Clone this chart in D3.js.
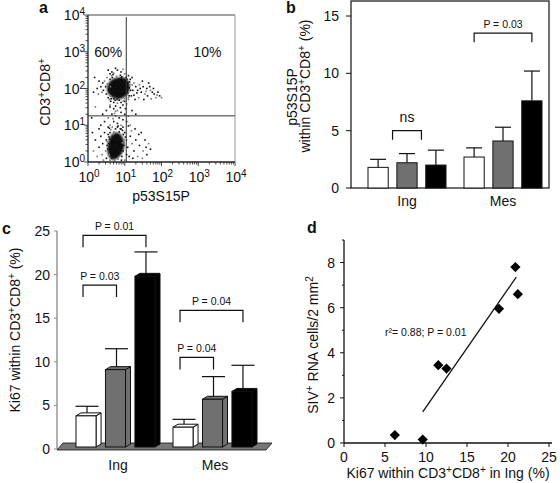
<!DOCTYPE html>
<html><head><meta charset="utf-8">
<script src="https://cdn.jsdelivr.net/npm/d3@7"></script>
<style>body{margin:0;background:#fff}svg text{font-family:Arial,"Liberation Sans",Helvetica,sans-serif;fill:#111}</style>
</head><body><svg id="chart" width="560" height="483"></svg>
<script>
// ---------------- DATA ----------------
// Panel a: flow cytometry (log decades)
const flowDecades = [0, 1, 2, 3, 4];
const flowGateX = 11;
const flowGateY = 18;
const flowQuadLabels = ["60%", "10%"];
// dense cores [xDecade, yDecade, rxDecade, ryDecade]
const flowCores = [[0.82, 2.0, 0.3, 0.29], [0.93, 2.08, 0.2, 0.22], [0.77, 0.47, 0.22, 0.33], [0.7, 0.3, 0.17, 0.24]];
// sparse events [xDecade, yDecade]
const flowDots = [
[0.45,2.2],[0.5,1.85],[0.48,2.05],[0.52,2.3],[0.55,1.75],[0.6,2.4],[0.58,1.7],[0.42,1.95],[0.4,2.15],[0.38,1.9],
[0.35,2.05],[0.3,2.2],[0.28,1.85],[0.25,2.0],[0.65,2.45],[0.7,2.42],[0.8,2.5],[0.9,2.45],[1.0,2.4],[1.1,2.35],
[1.15,2.25],[1.2,2.1],[1.22,1.95],[1.18,1.8],[1.1,1.7],[1.0,1.65],[0.9,1.62],[0.8,1.6],[0.7,1.62],[0.62,1.65],
[1.25,2.15],[1.3,2.05],[1.35,1.95],[1.4,2.1],[1.45,1.9],[1.5,2.05],[1.55,1.85],[1.6,2.0],[1.62,1.8],[1.7,1.95],
[1.75,1.9],[1.8,1.85],[1.85,1.75],[1.9,1.9],[1.95,1.8],[2.0,1.75],[1.65,2.15],[1.48,2.2],[1.38,1.75],[1.28,1.7],
[1.52,1.7],[1.72,1.72],[1.42,2.0],[1.33,1.88],[1.58,1.92],[1.68,2.05],[1.78,2.0],[1.88,1.82],[1.25,1.82],[1.2,2.3],
[0.95,2.52],[0.75,2.55],[0.55,2.5],[0.6,1.55],[0.75,1.52],[0.95,1.55],[1.05,1.58],[1.12,2.02],[1.08,1.88],[0.52,2.12],
[0.6,1.5],[0.7,1.45],[0.8,1.4],[0.9,1.35],[0.65,1.3],[0.75,1.25],[0.85,1.2],[0.95,1.15],[0.55,1.2],[0.7,1.1],
[0.8,1.05],[0.9,1.0],[1.0,1.3],[1.05,1.1],[0.6,1.0],[0.5,1.4],[0.45,1.1],[0.75,1.38],[0.88,1.48],[1.02,1.45],
[0.68,1.18],[0.82,0.98],[0.58,0.92],[1.1,1.25],[1.2,1.4],[1.3,1.3],[1.15,1.0],[0.4,1.3],[0.35,1.0],[0.72,1.32],
[0.45,0.8],[0.5,0.6],[0.48,0.3],[0.5,0.1],[0.55,0.95],[0.6,0.05],[0.9,0.9],[1.0,0.8],[1.05,0.6],[1.08,0.4],
[1.05,0.2],[1.0,0.05],[0.95,0.95],[0.4,0.5],[0.38,0.2],[0.35,0.7],[0.3,0.4],[0.25,0.15],[0.2,0.6],[1.15,0.7],
[1.2,0.5],[1.25,0.3],[1.3,0.6],[1.35,0.15],[1.4,0.45],[1.45,0.8],[1.5,0.3],[1.55,0.6],[1.6,0.2],[1.65,0.5],
[1.7,0.35],[1.12,0.15],[1.18,0.85],[1.28,0.9],[1.38,0.75],[1.48,0.1],[1.58,0.4],[1.22,0.1],[0.42,0.05],[0.3,0.9],
[1.1,0.98],[0.15,0.3],[0.12,0.8],[0.1,1.2],[0.2,1.5],[0.18,2.3],[0.15,1.9],[0.98,0.5],[1.02,0.68],[0.52,0.45],
[0.55,2.1],[0.58,1.9],[0.6,2.25],[0.62,1.8],[0.66,2.3],[0.7,1.72],[0.78,2.33],[0.85,1.68],[0.92,2.32],[1.0,1.72],
[1.06,2.25],[1.12,1.8],[1.14,2.1],[1.16,1.95],[0.57,2.0],[0.64,2.35],[0.74,1.68],[1.04,2.3],[1.1,1.75],[0.68,2.38],
[0.88,2.36],[0.96,1.66],[1.13,2.18],[0.56,1.95],[0.61,2.05],[0.63,1.72],[1.08,2.15],[1.07,1.84],[0.79,1.7],[0.9,2.28],
[0.52,0.55],[0.54,0.35],[0.55,0.75],[0.58,0.2],[0.6,0.8],[0.95,0.3],[0.98,0.6],[0.96,0.75],[0.92,0.15],[0.7,0.82],
[0.85,0.82],[0.65,0.1],[0.82,0.08],[0.56,0.5],[0.97,0.45],[0.62,0.88],[0.88,0.9],[0.75,0.9],[0.66,0.95],[0.8,0.95],
[0.59,0.62],[0.93,0.52],[0.6,0.4],[0.91,0.05],[0.72,0.04],[0.57,0.68],[0.94,0.86],[0.69,0.75]
];

// Panel b: p53S15P within CD3+CD8+ (%)
const groups = ["Ing", "Mes"];
const seriesNames = ["s1", "s2", "s3"];
const p53Means = [[1.8, 2.2, 2.0], [2.7, 4.1, 7.6]];
const p53Upper = [[2.5, 3.0, 3.3], [3.5, 5.3, 10.2]];
const p53Ticks = [0, 5, 10, 15];
const p53Brackets = [{g: 0, from: 0.5, to: 1.5, level: 5.0, label: "ns"},
                     {g: 1, from: 0, to: 2, level: 13.5, label: "P = 0.03"}];

// Panel c: Ki67 within CD3+CD8+ (%)
const ki67Means = [[3.8, 9.1, 19.8], [2.5, 5.7, 6.6]];
const ki67Upper = [[4.9, 11.5, 22.6], [3.4, 8.3, 9.6]];
const ki67Ticks = [0, 5, 10, 15, 20, 25];
const ki67Brackets = [{g: 0, from: 0, to: 2, level: 24.5, label: "P = 0.01"},
                      {g: 0, from: 0, to: 1, level: 18.8, label: "P = 0.03"},
                      {g: 1, from: 0, to: 2, level: 15.9, label: "P = 0.04"},
                      {g: 1, from: 0, to: 1, level: 10.5, label: "P = 0.04"}];

// Panel d: correlation
const corrX = [6.2, 9.6, 11.5, 12.5, 18.9, 20.9, 21.2];
const corrY = [0.35, 0.15, 3.45, 3.3, 5.95, 7.8, 6.6];
const fitX = [9.6, 21.0];
const fitY = [1.38, 7.35];
const corrXTicks = [0, 5, 10, 15, 20, 25];
const corrYTicks = [0, 2, 4, 6, 8];
const corrYMinor = [1, 3, 5, 7, 9];
const corrNote = "r\u00B2= 0.88; P = 0.01";

// ---------------- STYLE ----------------
const barFill = ["#ffffff", "#707070", "#000000"];
const svg = d3.select("#chart");

function rich(t, parts, supSize) {
  parts.forEach(([s, sup]) => {
    const ts = t.append("tspan").text(s);
    if (sup) ts.attr("baseline-shift", "super").attr("font-size", supSize);
  });
  return t;
}
function panelLabel(x, y, s) {
  svg.append("text").attr("x", x).attr("y", y).attr("font-size", 16).attr("font-weight", "bold").text(s);
}

// ================= Panel a =================
(function () {
  const L = 88, R = 235, T = 15, B = 162;
  const x = d3.scaleLinear().domain([0, 4]).range([L, R]);
  const y = d3.scaleLinear().domain([0, 4]).range([B, T]);
  const g = svg.append("g");
  const defs = svg.append("defs");
  defs.append("filter").attr("id", "blur1").append("feGaussianBlur").attr("stdDeviation", 1.1);

  g.selectAll("ellipse.core").data(flowCores).join("ellipse")
    .attr("cx", d => x(d[0])).attr("cy", d => y(d[1]))
    .attr("rx", d => x(d[2]) - x(0)).attr("ry", d => y(0) - y(d[3]))
    .attr("fill", "#0a0a0a").attr("filter", "url(#blur1)");
  g.selectAll("rect.dot").data(flowDots).join("rect")
    .attr("x", d => x(d[0]) - 0.8).attr("y", d => y(d[1]) - 0.8)
    .attr("width", 1.6).attr("height", 1.6)
    .attr("fill", (d, i) => i % 3 === 0 ? "#777" : "#111");

  g.append("line").attr("x1", L).attr("x2", R).attr("y1", T).attr("y2", T).attr("stroke", "#444").attr("stroke-width", 1);
  g.append("line").attr("x1", R).attr("x2", R).attr("y1", T).attr("y2", B).attr("stroke", "#999").attr("stroke-width", 1);
  g.append("line").attr("x1", L).attr("x2", L).attr("y1", T).attr("y2", B).attr("stroke", "#222").attr("stroke-width", 1.3);
  g.append("line").attr("x1", L).attr("x2", R).attr("y1", B).attr("y2", B).attr("stroke", "#222").attr("stroke-width", 1.3);

  const logTicks = [];
  for (let d = 0; d < 4; d++) for (let m = 1; m < 10; m++) logTicks.push(d + Math.log10(m));
  logTicks.push(4);
  g.selectAll("line.tx").data(logTicks).join("line")
    .attr("x1", d => x(d)).attr("x2", d => x(d)).attr("y1", B)
    .attr("y2", d => Math.abs(d - Math.round(d)) < 1e-9 ? B + 4 : B + 2.5)
    .attr("stroke", "#222").attr("stroke-width", 0.8);
  g.selectAll("line.ty").data(logTicks).join("line")
    .attr("y1", d => y(d)).attr("y2", d => y(d)).attr("x1", L)
    .attr("x2", d => Math.abs(d - Math.round(d)) < 1e-9 ? L - 4 : L - 2.5)
    .attr("stroke", "#222").attr("stroke-width", 0.8);

  g.append("line").attr("x1", x(Math.log10(flowGateX))).attr("x2", x(Math.log10(flowGateX)))
    .attr("y1", T + 2).attr("y2", B).attr("stroke", "#333").attr("stroke-width", 1);
  g.append("line").attr("y1", y(Math.log10(flowGateY))).attr("y2", y(Math.log10(flowGateY)))
    .attr("x1", L).attr("x2", R).attr("stroke", "#333").attr("stroke-width", 1);

  flowDecades.forEach(d => {
    const t = svg.append("text").attr("x", x(d) + 1).attr("y", B + 20).attr("text-anchor", "middle").attr("font-size", 14);
    rich(t, [["10"], [String(d), 1]], 10);
    const t2 = svg.append("text").attr("x", L - 3).attr("y", y(d) + 5).attr("text-anchor", "end").attr("font-size", 14);
    rich(t2, [["10"], [String(d), 1]], 10);
  });
  svg.append("text").attr("x", x(0.55)).attr("y", y(3) + 5).attr("text-anchor", "middle").attr("font-size", 14).text(flowQuadLabels[0]);
  svg.append("text").attr("x", x(3.25)).attr("y", y(3) + 5).attr("text-anchor", "middle").attr("font-size", 14).text(flowQuadLabels[1]);
  svg.append("text").attr("x", 161).attr("y", 201).attr("text-anchor", "middle").attr("font-size", 14).text("p53S15P");
  const yl = svg.append("text").attr("transform", "translate(50,92) rotate(-90)").attr("text-anchor", "middle").attr("font-size", 14);
  rich(yl, [["CD3"], ["+", 1], ["CD8"], ["+", 1]], 10);
  panelLabel(39, 13, "a");
})();

// ================= Panel b =================
(function () {
  const L = 351, R = 549, T = 1, B = 188;
  const y = d3.scaleLinear().domain([0, 15]).range([B, 16]);
  const gx = d3.scalePoint().domain(groups).range([407, 503]);
  const sx = d3.scaleBand().domain(seriesNames).range([-39, 39]).paddingInner(0.3);
  const g = svg.append("g");
  const bw = sx.bandwidth();

  g.append("rect").attr("x", L).attr("y", T).attr("width", R - L).attr("height", B - T)
    .attr("fill", "none").attr("stroke", "#111").attr("stroke-width", 1.2);
  g.selectAll("line.tk").data(p53Ticks).join("line")
    .attr("x1", L - 5).attr("x2", L).attr("y1", d => y(d)).attr("y2", d => y(d)).attr("stroke", "#111");
  g.selectAll("text.tl").data(p53Ticks).join("text")
    .attr("x", L - 12).attr("y", d => y(d) + 5).attr("text-anchor", "end").attr("font-size", 14).text(d => d);

  groups.forEach((gr, gi) => {
    seriesNames.forEach((s, si) => {
      const bx = gx(gr) + sx(s);
      const cx = bx + bw / 2;
      g.append("line").attr("x1", cx).attr("x2", cx).attr("y1", y(p53Means[gi][si])).attr("y2", y(p53Upper[gi][si]))
        .attr("stroke", "#111").attr("stroke-width", 1.2);
      g.append("line").attr("x1", cx - 8).attr("x2", cx + 8).attr("y1", y(p53Upper[gi][si])).attr("y2", y(p53Upper[gi][si]))
        .attr("stroke", "#111").attr("stroke-width", 1.2);
      g.append("rect").attr("x", bx).attr("y", y(p53Means[gi][si])).attr("width", bw)
        .attr("height", B - y(p53Means[gi][si])).attr("fill", barFill[si]).attr("stroke", "#111").attr("stroke-width", 1);
    });
    g.append("text").attr("x", gx(gr)).attr("y", 206).attr("text-anchor", "middle").attr("font-size", 14).text(gr);
  });

  const centerAt = (gi, idx) => {
    const lo = Math.floor(idx), f = idx - lo;
    const c = k => gx(groups[gi]) + sx(seriesNames[Math.min(k, 2)]) + bw / 2;
    return c(lo) + (lo < 2 ? (c(lo + 1) - c(lo)) * f : 0);
  };
  p53Brackets.forEach(b => {
    const x1 = centerAt(b.g, b.from), x2 = centerAt(b.g, b.to), yy = y(b.level);
    g.append("path").attr("d", `M${x1},${yy + 9}V${yy}H${x2}V${yy + 9}`).attr("fill", "none").attr("stroke", "#111").attr("stroke-width", 1.2);
    g.append("text").attr("x", (x1 + x2) / 2).attr("y", yy - (b.label === "ns" ? 9 : 5))
      .attr("text-anchor", "middle").attr("font-size", b.label === "ns" ? 14 : 10.5).text(b.label);
  });

  svg.append("text").attr("transform", "translate(297,97) rotate(-90)").attr("text-anchor", "middle").attr("font-size", 14).text("p53S15P");
  const t2 = svg.append("text").attr("transform", "translate(310,86) rotate(-90)").attr("text-anchor", "middle").attr("font-size", 14);
  rich(t2, [["within CD3"], ["+", 1], ["CD8"], ["+", 1], [" (%)"]], 10);
  panelLabel(286, 13, "b");
})();

// ================= Panel c =================
(function () {
  const L = 57;
  const y = d3.scaleLinear().domain([0, 25]).range([449, 231]);
  const gx = d3.scalePoint().domain(groups).range([118, 215]);
  const sx = d3.scaleBand().domain(seriesNames).range([-42, 42]).paddingInner(0.15);
  const g = svg.append("g");
  const dx = 5, dy = -3;
  const fw = sx.bandwidth() - dx;
  const base = y(0) - 2;

  g.append("line").attr("x1", L).attr("x2", L).attr("y1", y(25)).attr("y2", y(0)).attr("stroke", "#888").attr("stroke-width", 1.3);
  g.selectAll("line.tk").data(ki67Ticks).join("line")
    .attr("x1", L - 3).attr("x2", L).attr("y1", d => y(d)).attr("y2", d => y(d)).attr("stroke", "#888");
  g.selectAll("text.tl").data(ki67Ticks).join("text")
    .attr("x", L - 7).attr("y", d => y(d) + 5).attr("text-anchor", "end").attr("font-size", 14).text(d => d);

  g.append("path").attr("d", `M${L},${y(0) + 1}L${L + 6},${y(0) - 6}L${272},${y(0) - 6}L${266},${y(0) + 1}Z`)
    .attr("fill", "#777").attr("stroke", "#111").attr("stroke-width", 0.8);

  groups.forEach((gr, gi) => {
    seriesNames.forEach((s, si) => {
      const bx = gx(gr) + sx(s);
      const top = y(ki67Means[gi][si]);
      const cx = bx + fw / 2 + 1;
      const ey = y(ki67Upper[gi][si]);
      g.append("line").attr("x1", cx).attr("x2", cx).attr("y1", top).attr("y2", ey).attr("stroke", "#111").attr("stroke-width", 1.2);
      g.append("line").attr("x1", cx - 11.5).attr("x2", cx + 11.5).attr("y1", ey).attr("y2", ey).attr("stroke", "#111").attr("stroke-width", 1.2);
      g.append("path").attr("d", `M${bx + fw},${top}L${bx + fw + dx},${top + dy}L${bx + fw + dx},${base + dy}L${bx + fw},${base}Z`)
        .attr("fill", barFill[si]).attr("stroke", "#111").attr("stroke-width", 1).attr("stroke-linejoin", "round");
      g.append("path").attr("d", `M${bx},${top}L${bx + dx},${top + dy}L${bx + fw + dx},${top + dy}L${bx + fw},${top}Z`)
        .attr("fill", barFill[si]).attr("stroke", "#111").attr("stroke-width", 1).attr("stroke-linejoin", "round");
      g.append("rect").attr("x", bx).attr("y", top).attr("width", fw).attr("height", base - top)
        .attr("fill", barFill[si]).attr("stroke", "#111").attr("stroke-width", 1);
    });
    g.append("text").attr("x", gx(gr)).attr("y", 470).attr("text-anchor", "middle").attr("font-size", 14).text(gr);
  });

  const cOf = (gi, si) => gx(groups[gi]) + sx(seriesNames[si]) + fw / 2 + 1;
  ki67Brackets.forEach(b => {
    const x1 = cOf(b.g, b.from) - 4, x2 = cOf(b.g, b.to), yy = y(b.level);
    g.append("path").attr("d", `M${x1},${yy + 12}V${yy}H${x2}V${yy + 12}`).attr("fill", "none").attr("stroke", "#111").attr("stroke-width", 1.2);
    g.append("text").attr("x", (x1 + x2) / 2).attr("y", yy - 5).attr("text-anchor", "middle").attr("font-size", 10.5).text(b.label);
  });

  const yl = svg.append("text").attr("transform", "translate(20,330) rotate(-90)").attr("text-anchor", "middle").attr("font-size", 14);
  rich(yl, [["Ki67 within CD3"], ["+", 1], ["CD8"], ["+", 1], [" (%)"]], 10);
  panelLabel(2, 234, "c");
})();

// ================= Panel d =================
(function () {
  const x = d3.scaleLinear().domain([0, 25]).range([344, 549]);
  const y = d3.scaleLinear().domain([0, 9]).range([443, 240]);
  const g = svg.append("g");
  g.append("line").attr("x1", x(0)).attr("x2", x(0)).attr("y1", y(9)).attr("y2", y(0)).attr("stroke", "#111").attr("stroke-width", 1.3);
  g.append("line").attr("x1", x(0)).attr("x2", x(25) + 3).attr("y1", y(0)).attr("y2", y(0)).attr("stroke", "#111").attr("stroke-width", 1.3);
  g.selectAll("line.yt").data(corrYTicks).join("line")
    .attr("x1", x(0) - 4).attr("x2", x(0)).attr("y1", d => y(d)).attr("y2", d => y(d)).attr("stroke", "#111");
  g.selectAll("line.ym").data(corrYMinor).join("line")
    .attr("x1", x(0) - 2).attr("x2", x(0)).attr("y1", d => y(d)).attr("y2", d => y(d)).attr("stroke", "#111");
  g.selectAll("line.xt").data(corrXTicks).join("line")
    .attr("x1", d => x(d)).attr("x2", d => x(d)).attr("y1", y(0)).attr("y2", y(0) + 4).attr("stroke", "#111");
  g.selectAll("text.yl").data(corrYTicks).join("text")
    .attr("x", x(0) - 9).attr("y", d => y(d) + 5).attr("text-anchor", "end").attr("font-size", 14).text(d => d);
  g.selectAll("text.xl").data(corrXTicks).join("text")
    .attr("x", d => x(d)).attr("y", 462).attr("text-anchor", "middle").attr("font-size", 14).text(d => d);

  g.append("line").attr("x1", x(fitX[0])).attr("y1", y(fitY[0])).attr("x2", x(fitX[1])).attr("y2", y(fitY[1]))
    .attr("stroke", "#111").attr("stroke-width", 1.3);
  const sym = d3.symbol().type(d3.symbolSquare).size(52);
  g.selectAll("path.pt").data(corrX.map((v, i) => [v, corrY[i]])).join("path")
    .attr("d", sym).attr("transform", d => `translate(${x(d[0])},${y(d[1])}) rotate(45)`).attr("fill", "#000");

  g.append("text").attr("x", 385).attr("y", 336).attr("font-size", 10.5).text(corrNote);

  const xt = svg.append("text").attr("x", 448).attr("y", 478).attr("text-anchor", "middle").attr("font-size", 14);
  rich(xt, [["Ki67 within CD3"], ["+", 1], ["CD8"], ["+", 1], [" in Ing (%)"]], 10);
  const yt = svg.append("text").attr("transform", "translate(318,345) rotate(-90)").attr("text-anchor", "middle").attr("font-size", 14);
  rich(yt, [["SIV"], ["+", 1], [" RNA cells/2 mm"], ["2", 1]], 10);
  panelLabel(307, 233, "d");
})();
</script></body></html>
